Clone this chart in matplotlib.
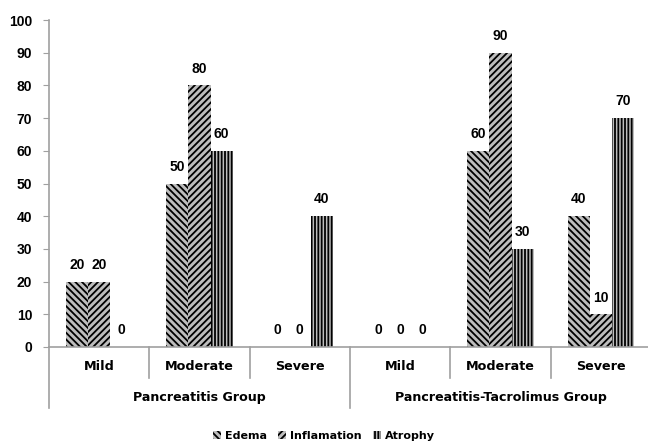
import matplotlib
matplotlib.use("Agg")
import matplotlib.pyplot as plt
import matplotlib.transforms as mtransforms
from matplotlib.lines import Line2D
import numpy as np

categories = ["Mild", "Moderate", "Severe", "Mild", "Moderate", "Severe"]
groups = ["Pancreatitis Group", "Pancreatitis-Tacrolimus Group"]
series = ["Edema", "Inflamation", "Atrophy"]
edema = [20, 50, 0, 0, 60, 40]
inflamation = [20, 80, 0, 0, 90, 10]
atrophy = [0, 60, 40, 0, 30, 70]
yticks = [0, 10, 20, 30, 40, 50, 60, 70, 80, 90, 100]

plt.rcParams['hatch.linewidth'] = 1.3
plt.rcParams['hatch.color'] = 'black'

fig = plt.figure(figsize=(6.48, 4.43), dpi=100)
W, H = 648, 443
left, right, top, bottom = 49, 651, 20, 347
ax = fig.add_axes([left / W, (H - bottom) / H, (right - left) / W, (bottom - top) / H])

x = np.arange(len(categories))
w = 0.22
hatches = ['\\' * 5, '/' * 5, '|' * 5]
values = [edema, inflamation, atrophy]
for i, (name, vals, h) in enumerate(zip(series, values, hatches)):
    pos = x + (i - 1) * w
    bars = ax.bar(pos, vals, width=w, facecolor='#bdbdbd', edgecolor='black',
                  hatch=h, linewidth=0, label=name)
    for px, v in zip(pos, vals):
        ax.annotate(str(v), (px, v), xytext=(0, 7), textcoords='offset points',
                    ha='center', va='bottom', fontsize=10, fontweight='bold',
                    family='Liberation Sans')

ax.set_xlim(-0.5, 5.5)
ax.set_ylim(0, 100)
ax.set_yticks(yticks)
ax.set_yticklabels([str(t) for t in yticks], fontsize=10, fontweight='bold',
                   family='Liberation Sans')
ax.tick_params(axis='y', direction='out', length=4, color='#a0a0a0', pad=8)
ax.tick_params(axis='x', length=0, labelbottom=False)
for s in ['top', 'right']:
    ax.spines[s].set_visible(False)
ax.spines['left'].set_color('#a0a0a0')
ax.spines['bottom'].set_color('#a0a0a0')
ax.spines['left'].set_linewidth(1.2)
ax.spines['bottom'].set_linewidth(1.2)

ah = bottom - top
trans = mtransforms.blended_transform_factory(ax.transData, ax.transAxes)
short_y = -(378 - bottom) / ah
long_y = -(408 - bottom) / ah
for xs in [0.5, 1.5, 3.5, 4.5]:
    ax.add_line(Line2D([xs, xs], [0, short_y], transform=trans, color='#a0a0a0',
                       lw=1.2, clip_on=False))
for xs in [-0.5, 2.5, 5.5]:
    ax.add_line(Line2D([xs, xs], [0, long_y], transform=trans, color='#a0a0a0',
                       lw=1.2, clip_on=False))

cat_y = -(367 - bottom) / ah
grp_y = -(397 - bottom) / ah
for xi, c in zip(x, categories):
    ax.text(xi, cat_y, c, transform=trans, ha='center', va='center',
            fontsize=9.2, fontweight='bold', family='DejaVu Sans')
for gi, g in enumerate(groups):
    ax.text(gi * 3 + 1, grp_y, g, transform=trans, ha='center', va='center',
            fontsize=9.1, fontweight='bold', family='DejaVu Sans')

leg = fig.legend(loc='center', bbox_to_anchor=(0.5, (H - 436) / H), ncol=3,
                 frameon=False, prop={'family': 'DejaVu Sans', 'weight': 'bold', 'size': 8},
                 handlelength=0.7, handleheight=0.7, handletextpad=0.4, columnspacing=1.0)

fig.savefig("out.png", dpi=100)
